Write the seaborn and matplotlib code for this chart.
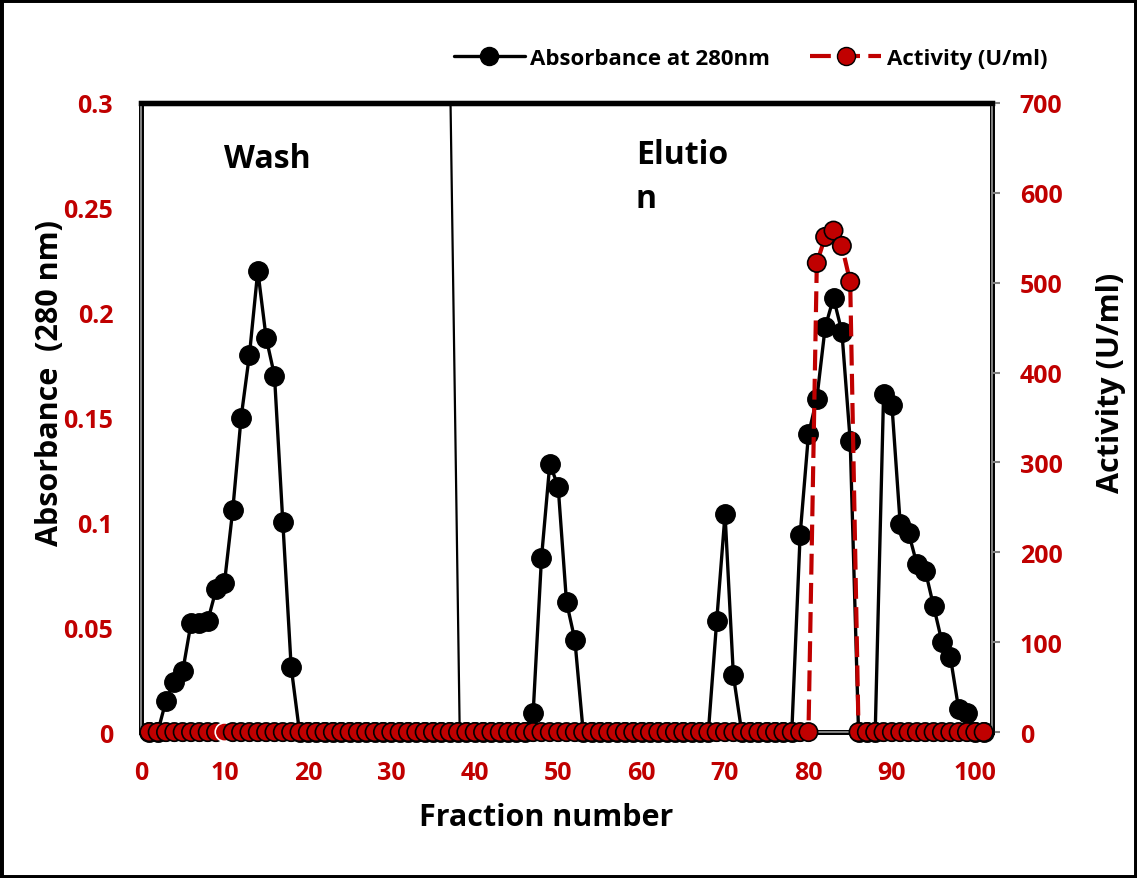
import matplotlib
matplotlib.use("Agg")
import matplotlib.pyplot as plt
import seaborn as sns
from matplotlib.lines import Line2D
from matplotlib.patches import Rectangle
from matplotlib import patheffects as pe

# ---- data -------------------------------------------------------------
fraction = list(range(1, 102))

absorbance_280 = [
    0, 0, 0.015, 0.024, 0.029, 0.052, 0.052, 0.053, 0.068, 0.071,          # 1-10
    0.106, 0.150, 0.180, 0.220, 0.188, 0.170, 0.100, 0.031, 0, 0,          # 11-20
    0, 0, 0, 0, 0, 0, 0, 0, 0, 0,                                          # 21-30
    0, 0, 0, 0, 0, 0, 0, 0, 0, 0,                                          # 31-40
    0, 0, 0, 0, 0, 0, 0.009, 0.083, 0.128, 0.117,                          # 41-50
    0.062, 0.044, 0, 0, 0, 0, 0, 0, 0, 0,                                  # 51-60
    0, 0, 0, 0, 0, 0, 0, 0, 0.053, 0.104,                                  # 61-70
    0.027, 0, 0, 0, 0, 0, 0, 0, 0.094, 0.142,                              # 71-80
    0.159, 0.193, 0.207, 0.191, 0.139, 0, 0, 0, 0.161, 0.156,              # 81-90
    0.099, 0.095, 0.080, 0.077, 0.060, 0.043, 0.036, 0.011, 0.009, 0,      # 91-100
    0,                                                                     # 101
]

activity_u_ml = [
    0, 0, 0, 0, 0, 0, 0, 0, 0, 0,
    0, 0, 0, 0, 0, 0, 0, 0, 0, 0,
    0, 0, 0, 0, 0, 0, 0, 0, 0, 0,
    0, 0, 0, 0, 0, 0, 0, 0, 0, 0,
    0, 0, 0, 0, 0, 0, 0, 0, 0, 0,
    0, 0, 0, 0, 0, 0, 0, 0, 0, 0,
    0, 0, 0, 0, 0, 0, 0, 0, 0, 0,
    0, 0, 0, 0, 0, 0, 0, 0, 0, 0,
    522, 551, 558, 541, 501, 0, 0, 0, 0, 0,
    0, 0, 0, 0, 0, 0, 0, 0, 0, 0,
    0,
]

# activity points drawn with a white outline
outlined_fractions = [10]

# wash / elution boundary (fraction at top and bottom of the plot)
boundary_fraction = [37.1, 38.2]

x_ticks = [0, 10, 20, 30, 40, 50, 60, 70, 80, 90, 100]
abs_ticks = [0, 0.05, 0.1, 0.15, 0.2, 0.25, 0.3]
abs_tick_labels = ["0", "0.05", "0.1", "0.15", "0.2", "0.25", "0.3"]
act_ticks = [0, 100, 200, 300, 400, 500, 600, 700]

# ---- style ------------------------------------------------------------
sns.set_theme(style="white")
plt.rcParams["font.family"] = ["Open Sans", "DejaVu Sans"]
plt.rcParams["font.weight"] = "bold"
plt.rcParams["text.color"] = "black"
plt.rcParams["axes.labelcolor"] = "black"

DARK_RED = "#C00000"

fig = plt.figure(figsize=(11.37, 8.79), dpi=100)
ax = fig.add_axes([0.124, 0.166, 0.7485, 0.7157])
ax2 = ax.twinx()

# absorbance trace
sns.lineplot(x=fraction, y=absorbance_280, ax=ax, color="black", lw=2.4,
             marker="o", markersize=14, markerfacecolor="black",
             markeredgecolor="black", markeredgewidth=1, clip_on=False,
             legend=False, zorder=3)

# wash / elution separator
ax.plot(boundary_fraction, [0.3, 0], color="black", lw=1.6, zorder=2)

# activity trace (dashed line, then the markers on top)
sns.lineplot(x=fraction, y=activity_u_ml, ax=ax2, color=DARK_RED, lw=3,
             linestyle=(0, (5, 2)), clip_on=False, legend=False, zorder=3)
edge_cols = ["white" if f in outlined_fractions else "black" for f in fraction]
sns.scatterplot(x=fraction, y=activity_u_ml, ax=ax2, color=DARK_RED, s=175,
                edgecolor=edge_cols, linewidth=1.2, clip_on=False,
                legend=False, zorder=4)

# ---- axes ---------------------------------------------------------------
ax.set_xlim(0, 102)
ax.set_ylim(0, 0.3)
ax2.set_ylim(0, 700)
ax.set_xticks(x_ticks)
ax.set_yticks(abs_ticks)
ax.set_yticklabels(abs_tick_labels)
ax2.set_yticks(act_ticks)

for lab in ax.get_xticklabels() + ax.get_yticklabels() + ax2.get_yticklabels():
    lab.set_fontsize(18)
    lab.set_fontweight("bold")
    lab.set_color(DARK_RED)

ax.tick_params(axis="x", length=0, pad=20)
ax.tick_params(axis="y", length=0, pad=20)
ax2.tick_params(axis="y", length=6, width=1.5, color="#808080", pad=14,
                direction="out", right=True)
ax.grid(False)
ax2.grid(False)

ax.set_xlabel("Fraction number", fontsize=22, fontweight="bold", color="black")
ax.set_ylabel("Absorbance  (280 nm)", fontsize=22, fontweight="bold", color="black")
ax2.set_ylabel("Activity (U/ml)", fontsize=22, fontweight="bold", color="black")
ax.xaxis.set_label_coords(0.476, -0.111)
ax.yaxis.set_label_coords(-0.089, 0.557)
ax2.yaxis.set_label_coords(1.122, 0.557)

# frame: grey double rules on three sides, solid black on top
for a in (ax, ax2):
    for side in ("left", "right", "bottom"):
        sp = a.spines[side]
        sp.set_color("#9a9a9a")
        sp.set_linewidth(1.2)
        sp.set_path_effects([pe.Stroke(linewidth=3.4, foreground="black"),
                             pe.Normal()])
    a.spines["top"].set_color("black")
    a.spines["top"].set_linewidth(3.8)
    a.spines["right"].set_zorder(0.5)

# region labels
ax.text(10.0, 0.2695, "Wash", fontsize=23, fontweight="bold", ha="left",
        va="baseline", color="black")
ax.text(59.3, 0.2835, "Elutio\nn", fontsize=23, fontweight="bold", ha="left",
        va="top", linespacing=1.45, color="black")

# legend
handles = [
    Line2D([], [], color="black", lw=2.4, marker="o", markersize=13,
           markerfacecolor="black", markeredgecolor="black"),
    Line2D([], [], color=DARK_RED, lw=3, linestyle=(0, (5, 2)), marker="o",
           markersize=13, markerfacecolor=DARK_RED, markeredgecolor="black"),
]
leg = fig.legend(handles, ["Absorbance at 280nm", "Activity (U/ml)"],
                 loc="center", bbox_to_anchor=(0.66, 0.932), ncol=2,
                 frameon=False, prop=dict(size=16, weight="bold"),
                 handlelength=3.2, handletextpad=0.25, columnspacing=1.8)
for t in leg.get_texts():
    t.set_color("black")

# outer border
fig.patches.append(Rectangle((0, 0), 1, 1, transform=fig.transFigure,
                             fill=False, lw=5, edgecolor="black"))

fig.savefig("out.png", dpi=100)
